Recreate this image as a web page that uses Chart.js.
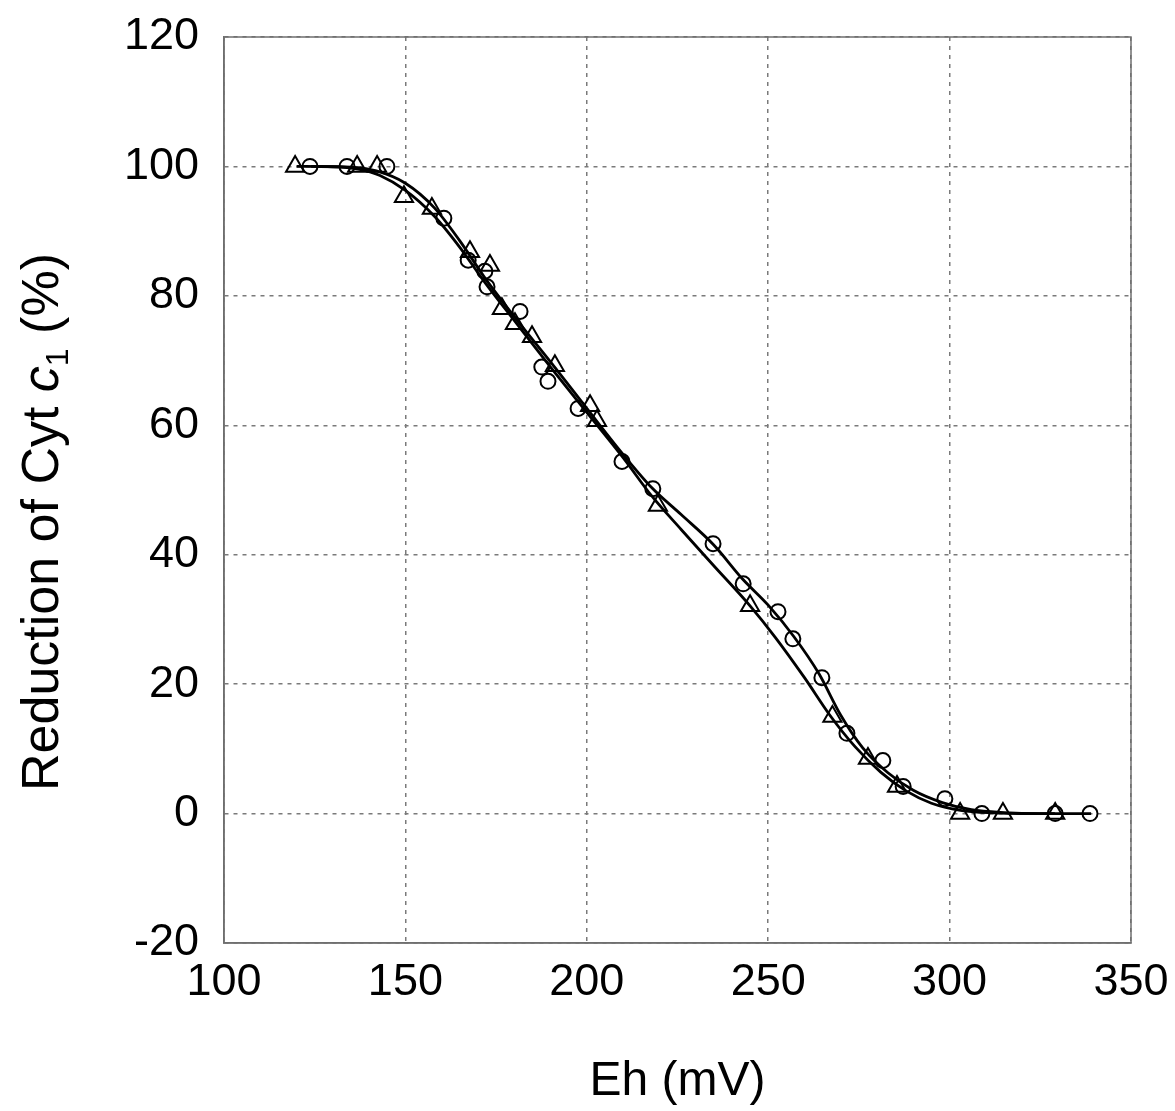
<!DOCTYPE html>
<html>
<head>
<meta charset="utf-8">
<title>Reduction of Cyt c1 vs Eh</title>
<script src="https://cdn.jsdelivr.net/npm/chart.js@4.4.1/dist/chart.umd.min.js"></script>
<style>
  html, body { margin: 0; padding: 0; background: #fff; }
  canvas { display: block; }
</style>
</head>
<body>
<canvas id="redoxChart" width="1175" height="1111"></canvas>
<script>
// measured points, circles
const circleEh  = [123.7, 133.9, 144.9, 160.6, 167.3, 171.9, 172.5, 181.6, 187.6, 189.3, 197.6, 209.7, 218.2,
                   234.8, 243.1, 252.7, 256.8, 264.8, 271.7, 281.6, 287.2, 298.7, 308.9, 329.1, 338.7];
const circleRed = [100, 100, 100, 92, 85.5, 83.8, 81.4, 77.6, 69, 66.8, 62.6, 54.4, 50.2,
                   41.7, 35.5, 31.2, 27, 21, 12.4, 8.2, 4.2, 2.3, 0, 0, 0];

// measured points, triangles
const triEh  = [119.6, 136.7, 142.2, 149.6, 157.3, 167.8, 173.3, 176.6, 180.2, 184.9, 191.2, 200.9, 202.8,
                219.6, 245, 267.7, 277.5, 285.5, 302.9, 314.7, 329.1];
const triRed = [100, 100, 100, 95.3, 93.5, 86.8, 84.7, 78, 75.7, 73.7, 69.2, 63, 60.7,
                47.6, 32.1, 15, 8.5, 4.2, 0, 0, 0];

// fitted curves
const circleFitEh  = [124, 135, 142, 150, 158, 165, 172, 180, 190, 200, 210, 218, 226, 235, 243, 250,
                      257, 264, 270, 276, 283, 290, 298, 306, 315, 325, 339];
const circleFitRed = [100, 99.9, 99.3, 97.4, 93.6, 88.5, 82.7, 76.8, 69.8, 62.6, 55.5, 50.3, 46.2, 41.5, 36.2, 32.2,
                      27.4, 21.6, 15.2, 10.2, 6.3, 3.6, 1.7, 0.6, 0.15, 0, 0];
const triFitEh  = [120, 130, 137, 143, 150, 158, 165, 172, 180, 190, 200, 210, 218, 226, 235, 245,
                   252, 260, 267, 274, 281, 288, 295, 303, 312, 320, 329];
const triFitRed = [100, 99.95, 99.6, 98.6, 96.3, 92.3, 87.5, 82, 76.2, 69, 62, 55, 49, 43.9, 38.3, 32.1,
                   27.2, 21, 15.2, 10.3, 6.4, 3.5, 1.6, 0.5, 0.1, 0, 0];

const xRange = [100, 350];
const yRange = [-20, 120];

const toXY = (xs, ys) => xs.map((x, i) => ({ x: x, y: ys[i] }));

const FONT = '"Liberation Sans", Arial, sans-serif';

// box round the plot + y title with italic c and subscript 1
const decor = {
  id: 'decor',
  afterDraw(chart) {
    const { ctx, chartArea: a } = chart;
    ctx.save();
    ctx.strokeStyle = '#6f6f6f';
    ctx.lineWidth = 1.5;
    ctx.setLineDash([]);
    ctx.strokeRect(a.left, a.top, a.right - a.left, a.bottom - a.top);

    const parts = [
      { t: 'Reduction of Cyt ', f: '52px ' + FONT, dy: 0 },
      { t: 'c', f: 'italic 52px ' + FONT, dy: 0 },
      { t: '1', f: '32px ' + FONT, dy: 10 },
      { t: ' (%)', f: '52px ' + FONT, dy: 0 }
    ];
    let total = 0;
    parts.forEach(p => { ctx.font = p.f; p.w = ctx.measureText(p.t).width; total += p.w; });
    ctx.translate(40, 522);
    ctx.rotate(-Math.PI / 2);
    ctx.fillStyle = '#000';
    ctx.textBaseline = 'alphabetic';
    let x = -total / 2;
    parts.forEach(p => {
      ctx.font = p.f;
      ctx.fillText(p.t, x, 18 + p.dy);
      x += p.w;
    });
    ctx.restore();
  }
};

new Chart(document.getElementById('redoxChart').getContext('2d'), {
  type: 'scatter',
  data: {
    datasets: [
      {
        label: 'fit (circles)',
        type: 'line',
        data: toXY(circleFitEh, circleFitRed),
        borderColor: '#000',
        borderWidth: 2.8,
        pointRadius: 0,
        cubicInterpolationMode: 'monotone',
        fill: false
      },
      {
        label: 'fit (triangles)',
        type: 'line',
        data: toXY(triFitEh, triFitRed),
        borderColor: '#000',
        borderWidth: 2.8,
        pointRadius: 0,
        cubicInterpolationMode: 'monotone',
        fill: false
      },
      {
        label: 'circles',
        data: toXY(circleEh, circleRed),
        pointStyle: 'circle',
        pointRadius: 7.5,
        pointBorderWidth: 2,
        borderColor: '#000',
        backgroundColor: 'rgba(0,0,0,0)'
      },
      {
        label: 'triangles',
        data: toXY(triEh, triRed),
        pointStyle: 'triangle',
        pointRadius: 10.5,
        pointBorderWidth: 2,
        borderColor: '#000',
        backgroundColor: 'rgba(0,0,0,0)'
      }
    ]
  },
  options: {
    responsive: false,
    animation: false,
    layout: { padding: { top: 37, right: 44, left: 0, bottom: 0 } },
    scales: {
      x: {
        type: 'linear',
        min: xRange[0],
        max: xRange[1],
        afterFit: s => { s.height = 168; s.paddingLeft = 0; s.paddingRight = 0; },
        ticks: { stepSize: 50, padding: 13, color: '#000', font: { family: FONT, size: 45 } },
        grid: { color: '#7a7a7a', lineWidth: 1.5, drawTicks: false },
        border: { display: true, color: '#6f6f6f', width: 1.5, dash: [4, 5] },
        title: {
          display: true,
          text: 'Eh (mV)',
          color: '#000',
          font: { family: FONT, size: 48 },
          padding: { top: 0, bottom: 0 }
        }
      },
      y: {
        type: 'linear',
        min: yRange[0],
        max: yRange[1],
        afterFit: s => { s.width = 224; s.paddingTop = 0; s.paddingBottom = 0; },
        ticks: { stepSize: 20, padding: 25, color: '#000', font: { family: FONT, size: 45 } },
        grid: { color: '#7a7a7a', lineWidth: 1.5, drawTicks: false },
        border: { display: true, color: '#6f6f6f', width: 1.5, dash: [4, 5] }
      }
    },
    plugins: {
      legend: { display: false },
      tooltip: { enabled: false }
    }
  },
  plugins: [decor]
});
</script>
</body>
</html>
